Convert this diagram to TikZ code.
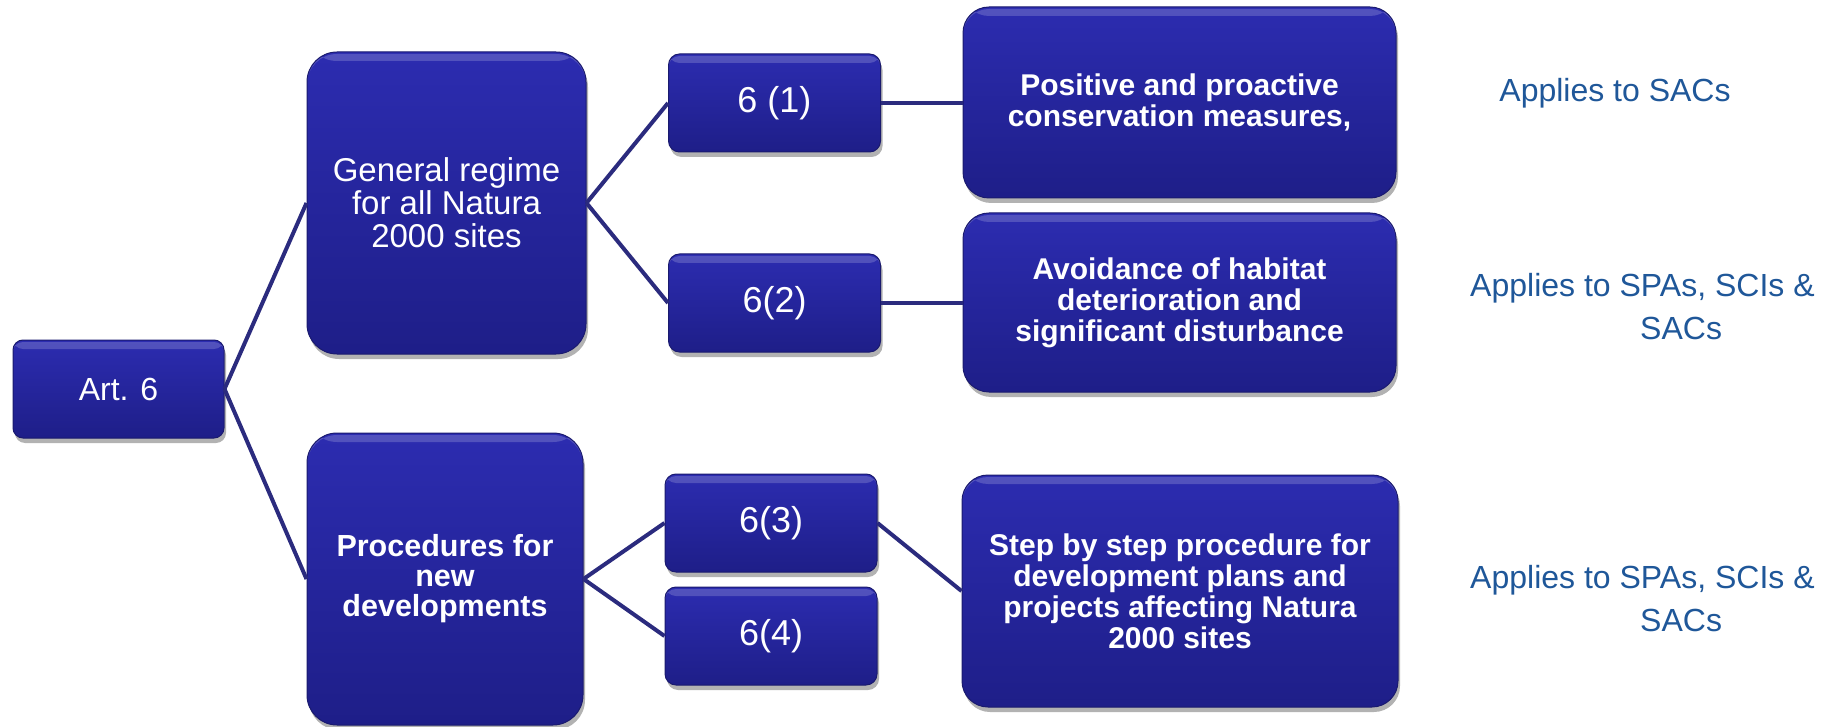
\documentclass[tikz,border=0pt]{standalone}
\usepackage{fontspec}
\setmainfont{Liberation Sans}
\usetikzlibrary{shadows}
\definecolor{boxtop}{HTML}{2C2CB0}
\definecolor{boxbot}{HTML}{1E1E88}
\definecolor{boxedge}{HTML}{1A1A6E}
\definecolor{linkcol}{HTML}{2B2B7E}
\definecolor{notecol}{HTML}{1F5799}
\tikzset{
  box/.style={draw=boxedge, line width=1pt, top color=boxtop, bottom color=boxbot,
    text=white, align=center, inner sep=0pt,
    drop shadow={shadow xshift=2pt, shadow yshift=-5pt, opacity=0.3, fill=black},
    path picture={\fill[white,opacity=0.18] ([yshift=-2pt]path picture bounding box.north west) rectangle ([yshift=-9pt]path picture bounding box.north east);}},
  smallbox/.style={box, rounded corners=11pt, minimum width=212pt, minimum height=98pt,
    font=\fontsize{36}{38}\selectfont},
  bigbox/.style={box, rounded corners=26pt, font=\bfseries\fontsize{30}{31}\selectfont},
  link/.style={draw=linkcol, line width=4pt},
  note/.style={text=notecol, font=\fontsize{32}{43}\selectfont, inner sep=0pt}
}
\begin{document}
\begin{tikzpicture}[x=1pt, y=-1pt]
\useasboundingbox (0,0) rectangle (1825,727);

\node[box, rounded corners=10pt, minimum width=211pt, minimum height=98pt,
  font=\fontsize{32}{34}\selectfont] (art) at (118.5,389) {Art. 6};

\node[box, rounded corners=30pt, minimum width=279pt, minimum height=302pt,
  font=\fontsize{33}{33}\selectfont] (gen) at (446.5,203) {General regime\\for all Natura\\2000 sites};
\node[box, rounded corners=30pt, minimum width=276pt, minimum height=292pt,
  font=\bfseries\fontsize{30.5}{30}\selectfont] (proc) at (445,579) {Procedures for\\new\\developments};

\node[smallbox] (s1) at (774.5,103) {6 (1)};
\node[smallbox] (s2) at (774.5,303) {6(2)};
\node[smallbox] (s3) at (771,523) {6(3)};
\node[smallbox] (s4) at (771,636) {6(4)};

\node[bigbox, minimum width=433pt, minimum height=191pt] (pos) at (1179.5,102.5)
  {Positive and proactive\\conservation measures,};
\node[bigbox, minimum width=433pt, minimum height=179pt] (avo) at (1179.5,302.5)
  {Avoidance of habitat\\deterioration and\\significant disturbance};
\node[bigbox, minimum width=436pt, minimum height=232pt] (stp) at (1180,591)
  {Step by step procedure for\\development plans and\\projects affecting Natura\\2000 sites};

\draw[link] (art.east) -- (gen.west);
\draw[link] (art.east) -- (proc.west);
\draw[link] (gen.east) -- (s1.west);
\draw[link] (gen.east) -- (s2.west);
\draw[link] (proc.east) -- (s3.west);
\draw[link] (proc.east) -- (s4.west);
\draw[link] (s1.east) -- (s1.east -| pos.west);
\draw[link] (s2.east) -- (s2.east -| avo.west);
\draw[link] (s3.east) -- (stp.west);

\node[note] (n1) at (1615,93) {Applies to SACs};
\node[note, align=left, anchor=west] (n2) at (1470,306.5) {Applies to SPAs, SCIs \&\\\hspace*{170pt}SACs};
\node[note, align=left, anchor=west] (n3) at (1470,598.5) {Applies to SPAs, SCIs \&\\\hspace*{170pt}SACs};
\end{tikzpicture}
\end{document}
